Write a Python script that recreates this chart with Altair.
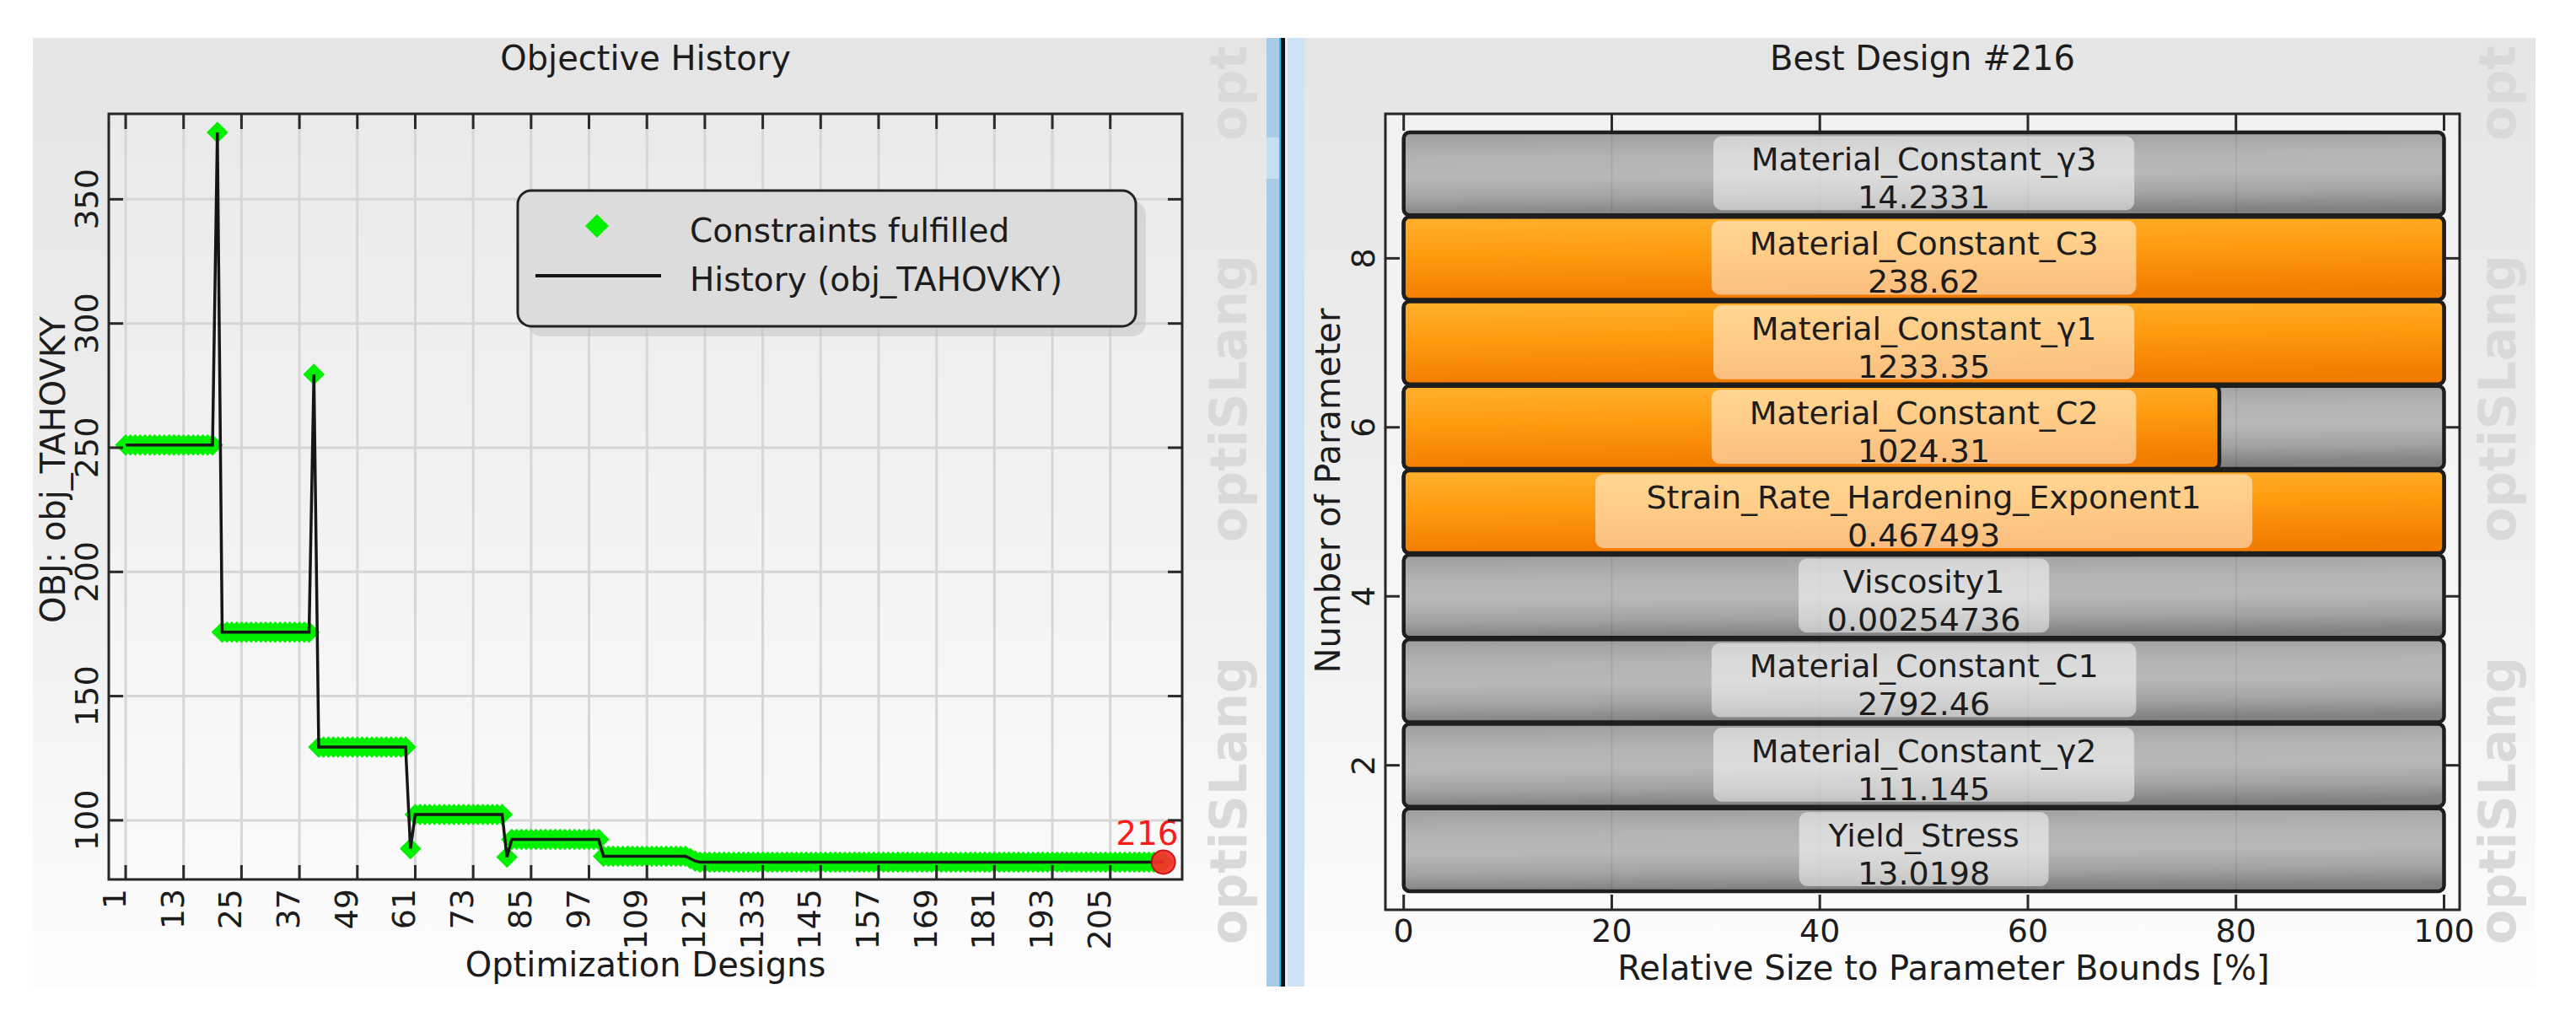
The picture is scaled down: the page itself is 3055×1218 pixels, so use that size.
import altair as alt
import pandas as pd

# ---------------- data: objective history (left panel) ----------------
# each run = consecutive designs sharing the same objective value
RUN_VALUES = [251.1, 376.9, 175.7, 279.5, 129.5, 88.6, 102.3, 85.2, 92.3, 85.5, 84.6, 83.6, 83.2]
RUN_LENGTHS = [19, 1, 19, 1, 19, 1, 19, 1, 19, 18, 1, 1, 97]
X_TICKS = [1, 13, 25, 37, 49, 61, 73, 85, 97, 109, 121, 133, 145, 157, 169, 181, 193, 205]
Y_TICKS = [100, 150, 200, 250, 300, 350]
BEST_DESIGN = 216
LEGEND_LABELS = ["Constraints fulfilled", "History (obj_TAHOVKY)"]

# ---------------- data: best design parameters (right panel) ----------------
PARAM_NAMES = [
    "Yield_Stress", "Material_Constant_γ2", "Material_Constant_C1", "Viscosity1",
    "Strain_Rate_Hardening_Exponent1", "Material_Constant_C2", "Material_Constant_γ1",
    "Material_Constant_C3", "Material_Constant_γ3",
]
PARAM_VALUES = ["13.0198", "111.145", "2792.46", "0.00254736", "0.467493",
                "1024.31", "1233.35", "238.62", "14.2331"]
PARAM_REL = [0, 0, 0, 0, 100, 78.4, 100, 100, 0]
X2_TICKS = [0, 20, 40, 60, 80, 100]
Y2_TICKS = [2, 4, 6, 8]

# ---------------- layout / style ----------------
FONT = "DejaVu Sans"
INK = "#1c1c1c"
W1, H1 = 1273, 908
X1_DOMAIN = [-2.5, 219.9]
Y1_DOMAIN = [76.2, 384.4]
W2, H2 = 1274, 944
X2_DOMAIN = [-1.76, 101.5]
Y2_DOMAIN = [0.29, 9.71]

ONE = pd.DataFrame({"k": [0]})


def grad(stops, x2=0.0, y2=1.0):
    return alt.LinearGradient(
        gradient="linear",
        stops=[alt.GradientStop(offset=o, color=c) for o, c in stops],
        x1=0, y1=0, x2=x2, y2=y2,
    )


def prect(x, x2, y, y2, **mk):
    return alt.Chart(ONE).mark_rect(**mk).encode(
        x=alt.value(x), x2=alt.value(x2), y=alt.value(y), y2=alt.value(y2))


def ptext(x, y, text, **mk):
    mk.setdefault("font", FONT)
    mk.setdefault("color", INK)
    return alt.Chart(ONE).mark_text(text=text, **mk).encode(x=alt.value(x), y=alt.value(y))


PANEL_GRAD = grad([(0, "#e5e5e5"), (0.55, "#efefef"), (1, "#fdfdfd")])
PLOT1_GRAD = grad([(0, "#eaeaea"), (1, "#fafafa")])
PLOT2_GRAD = grad([(0, "#f1f1f1"), (1, "#fafafa")])
GRAY_GRAD = grad([(0, "#9d9d9d"), (0.3, "#b3b3b3"), (0.55, "#b8b8b8"), (0.8, "#a2a2a2"), (1, "#828282")], x2=0.1)
ORANGE_GRAD = grad([(0, "#ffb12e"), (0.45, "#ff9c10"), (1, "#f27c00")], x2=0.15)
TICK = dict(color="#2a2a2a", strokeWidth=3)
GRID = dict(color="#d6d6d6", strokeWidth=3)
LBL = dict(font=FONT, color=INK, fontSize=38)
WM = dict(angle=270, align="left", baseline="alphabetic", fontSize=60, fontWeight="bold", color="#d9d9d9")

# ---------------- left panel ----------------
values = []
for v, n in zip(RUN_VALUES, RUN_LENGTHS):
    values.extend([v] * n)
hist = pd.DataFrame({"design": list(range(1, len(values) + 1)), "obj": values})
best = hist[hist["design"] == BEST_DESIGN].copy()
best["label"] = str(BEST_DESIGN)
xt1 = pd.DataFrame({"t": X_TICKS})
yt1 = pd.DataFrame({"t": Y_TICKS})

xs1 = alt.Scale(domain=X1_DOMAIN, nice=False, zero=False)
ys1 = alt.Scale(domain=Y1_DOMAIN, nice=False, zero=False)
X1 = lambda f: alt.X(f, scale=xs1, axis=None)
Y1 = lambda f: alt.Y(f, scale=ys1, axis=None)

left_layers = [
    prect(-90, 1373, -90, 1037, fill=PANEL_GRAD),
    prect(0, W1, 0, H1, fill=PLOT1_GRAD),
]
for y, t in [(985, "optiSLang"), (508, "optiSLang"), (32, "opt")]:
    left_layers.append(ptext(1349, y, t, **WM))
left_layers += [
    alt.Chart(xt1).mark_rule(**GRID).encode(x=X1("t:Q"), y=alt.value(0), y2=alt.value(H1)),
    alt.Chart(yt1).mark_rule(**GRID).encode(y=Y1("t:Q"), x=alt.value(0), x2=alt.value(W1)),
    alt.Chart(hist).mark_point(shape="diamond", filled=True, size=650, color="#00f000", opacity=1).encode(
        x=X1("design:Q"), y=Y1("obj:Q")),
    alt.Chart(hist).mark_line(color="#161616", strokeWidth=3.5).encode(x=X1("design:Q"), y=Y1("obj:Q")),
    alt.Chart(best).mark_point(shape="circle", filled=True, size=784, color="#ff2b2b",
                               stroke="#c40000", strokeWidth=2, opacity=0.9).encode(
        x=X1("design:Q"), y=Y1("obj:Q")),
    alt.Chart(best).mark_text(align="right", baseline="alphabetic", dx=18, dy=-20, fontSize=39,
                              color="#ff1a1a", font=FONT).encode(
        x=X1("design:Q"), y=Y1("obj:Q"), text="label:N"),
    # inward ticks
    alt.Chart(xt1).mark_rule(**TICK).encode(x=X1("t:Q"), y=alt.value(0), y2=alt.value(18)),
    alt.Chart(xt1).mark_rule(**TICK).encode(x=X1("t:Q"), y=alt.value(H1 - 17), y2=alt.value(H1)),
    alt.Chart(yt1).mark_rule(**TICK).encode(y=Y1("t:Q"), x=alt.value(0), x2=alt.value(17)),
    alt.Chart(yt1).mark_rule(**TICK).encode(y=Y1("t:Q"), x=alt.value(W1 - 17), x2=alt.value(W1)),
    prect(0, W1, 0, H1, fillOpacity=0, stroke="#262626", strokeWidth=3),
    # tick labels and axis titles
    alt.Chart(xt1).mark_text(angle=270, align="right", baseline="alphabetic", **LBL).encode(
        x=X1("t:Q"), y=alt.value(H1 + 11), text=alt.Text("t:Q", format="d")),
    alt.Chart(yt1).mark_text(angle=270, align="center", baseline="alphabetic", **LBL).encode(
        y=Y1("t:Q"), x=alt.value(-13), text=alt.Text("t:Q", format="d")),
    ptext(W1 / 2, H1 + 115, "Optimization Designs", align="center", baseline="alphabetic", fontSize=40),
    ptext(-64, 422, "OBJ: obj_TAHOVKY", angle=270, align="center", baseline="middle", fontSize=40),
    # legend
    prect(497, 1230, 103, 264, fill="#c4c4c4", opacity=0.55, cornerRadius=16),
    prect(485, 1218, 91, 252, fill="#dcdcdc", stroke="#222222", strokeWidth=3, cornerRadius=16),
    alt.Chart(ONE).mark_point(shape="diamond", filled=True, size=784, color="#00f000", opacity=1).encode(
        x=alt.value(579), y=alt.value(133)),
    alt.Chart(ONE).mark_rule(color="#161616", strokeWidth=4).encode(
        x=alt.value(506), x2=alt.value(655), y=alt.value(192)),
    ptext(689, 152, LEGEND_LABELS[0], align="left", baseline="alphabetic", fontSize=39),
    ptext(689, 210, LEGEND_LABELS[1], align="left", baseline="alphabetic", fontSize=39),
    # title
    ptext(W1 / 2, -52, "Objective History", align="center", baseline="alphabetic", fontSize=40),
]
left = alt.layer(*left_layers).properties(width=W1, height=H1)

# ---------------- right panel ----------------
LABEL_FS = 38
CW = {'M': .863, 'a': .613, 't': .392, 'e': .615, 'r': .411, 'i': .278, 'l': .278, '_': .5,
      'C': .698, 'o': .612, 'n': .634, 's': .521, 'γ': .592, '.': .318, 'S': .635, 'R': .695,
      'H': .752, 'd': .635, 'g': .635, 'E': .632, 'x': .592, 'p': .635, 'V': .684, 'c': .550,
      'y': .592, 'Y': .611}


def text_px(s, fs=LABEL_FS):
    return fs * sum(CW.get(ch, 0.636) for ch in s)


px_per_unit = W2 / (X2_DOMAIN[1] - X2_DOMAIN[0])
params = pd.DataFrame({"name": PARAM_NAMES, "value": PARAM_VALUES, "rel": PARAM_REL})
params["pos"] = list(range(1, len(PARAM_NAMES) + 1))
params["lo"] = params["pos"] - 0.49
params["hi"] = params["pos"] + 0.49
params["zero"] = 0
params["full"] = 100
params["mid"] = 50
params["label"] = params["name"] + "\n" + params["value"]
half = [(1.12 * max(text_px(n), text_px(v)) + 40) / 2 / px_per_unit
        for n, v in zip(params["name"], params["value"])]
params["bx0"] = [50 - h for h in half]
params["bx1"] = [50 + h for h in half]
params["blo"] = params["pos"] - 0.43
params["bhi"] = params["pos"] + 0.445
orange = params[params["rel"] > 0]
xt2 = pd.DataFrame({"t": X2_TICKS})
xg2 = pd.DataFrame({"t": X2_TICKS[1:-1]})
yt2 = pd.DataFrame({"t": Y2_TICKS})

xs2 = alt.Scale(domain=X2_DOMAIN, nice=False, zero=False)
ys2 = alt.Scale(domain=Y2_DOMAIN, nice=False, zero=False)
X2 = lambda f: alt.X(f, scale=xs2, axis=None)
Y2 = lambda f: alt.Y(f, scale=ys2, axis=None)

BAR = dict(stroke="#1e1e1e", strokeWidth=4.5, cornerRadius=7)
right_layers = [
    # window divider
    prect(-141, -126, -90, 1035, fill="#a8cbe8"),
    prect(-141, -126, 28, 77, fill="#c6def3"),
    prect(-126, -124, -90, 1035, fill="#1ec0f2"),
    prect(-124, -119, -90, 1035, fill="#101010"),
    prect(-119, -116, -90, 1035, fill="#e6eff7"),
    prect(-116, -96, -90, 1035, fill="#cfe2f3"),
    prect(-96, 1364, -90, 1037, fill=PANEL_GRAD),
    prect(0, W2, 0, H2, fill=PLOT2_GRAD),
]
for y, t in [(985, "optiSLang"), (508, "optiSLang"), (32, "opt")]:
    right_layers.append(ptext(1340, y, t, **WM))
right_layers += [
    alt.Chart(params).mark_rect(fill=GRAY_GRAD, **BAR).encode(
        x=X2("zero:Q"), x2="full:Q", y=Y2("lo:Q"), y2="hi:Q"),
    alt.Chart(xg2).mark_rule(color="#000000", opacity=0.07, strokeWidth=2).encode(
        x=X2("t:Q"), y=alt.value(24), y2=alt.value(920)),
    alt.Chart(orange).mark_rect(fill=ORANGE_GRAD, **BAR).encode(
        x=X2("zero:Q"), x2="rel:Q", y=Y2("lo:Q"), y2="hi:Q"),
    alt.Chart(params).mark_rect(fill="#ffffff", fillOpacity=0.5, cornerRadius=10).encode(
        x=X2("bx0:Q"), x2="bx1:Q", y=Y2("blo:Q"), y2="bhi:Q"),
    alt.Chart(params).mark_text(font=FONT, fontSize=LABEL_FS, color=INK, baseline="alphabetic", dy=-4,
                                lineBreak="\n", lineHeight=45).encode(
        x=X2("mid:Q"), y=Y2("pos:Q"), text="label:N"),
    alt.Chart(xt2).mark_rule(**TICK).encode(x=X2("t:Q"), y=alt.value(0), y2=alt.value(20)),
    alt.Chart(xt2).mark_rule(**TICK).encode(x=X2("t:Q"), y=alt.value(H2 - 18), y2=alt.value(H2)),
    alt.Chart(yt2).mark_rule(**TICK).encode(y=Y2("t:Q"), x=alt.value(0), x2=alt.value(17)),
    alt.Chart(yt2).mark_rule(**TICK).encode(y=Y2("t:Q"), x=alt.value(W2 - 17), x2=alt.value(W2)),
    prect(0, W2, 0, H2, fillOpacity=0, stroke="#262626", strokeWidth=3),
    # tick labels and axis titles
    alt.Chart(xt2).mark_text(align="center", baseline="top", **LBL).encode(
        x=X2("t:Q"), y=alt.value(H2 + 8), text=alt.Text("t:Q", format="d")),
    alt.Chart(yt2).mark_text(angle=270, align="center", baseline="alphabetic", **LBL).encode(
        y=Y2("t:Q"), x=alt.value(-13), text=alt.Text("t:Q", format="d")),
    ptext(662, H2 + 83, "Relative Size to Parameter Bounds [%]", align="center", baseline="alphabetic", fontSize=40),
    ptext(-66, 447, "Number of Parameter", angle=270, align="center", baseline="middle", fontSize=40),
    ptext(W2 / 2, -52, "Best Design #216", align="center", baseline="alphabetic", fontSize=40),
]
right = alt.layer(*right_layers).properties(width=W2, height=H2)

chart = alt.hconcat(left, right, spacing=0).properties(
    padding={"left": 31, "top": 37, "right": 0, "bottom": 0}
).configure_view(stroke=None)

chart.save("out.html", embed_options={"renderer": "svg", "actions": False})
